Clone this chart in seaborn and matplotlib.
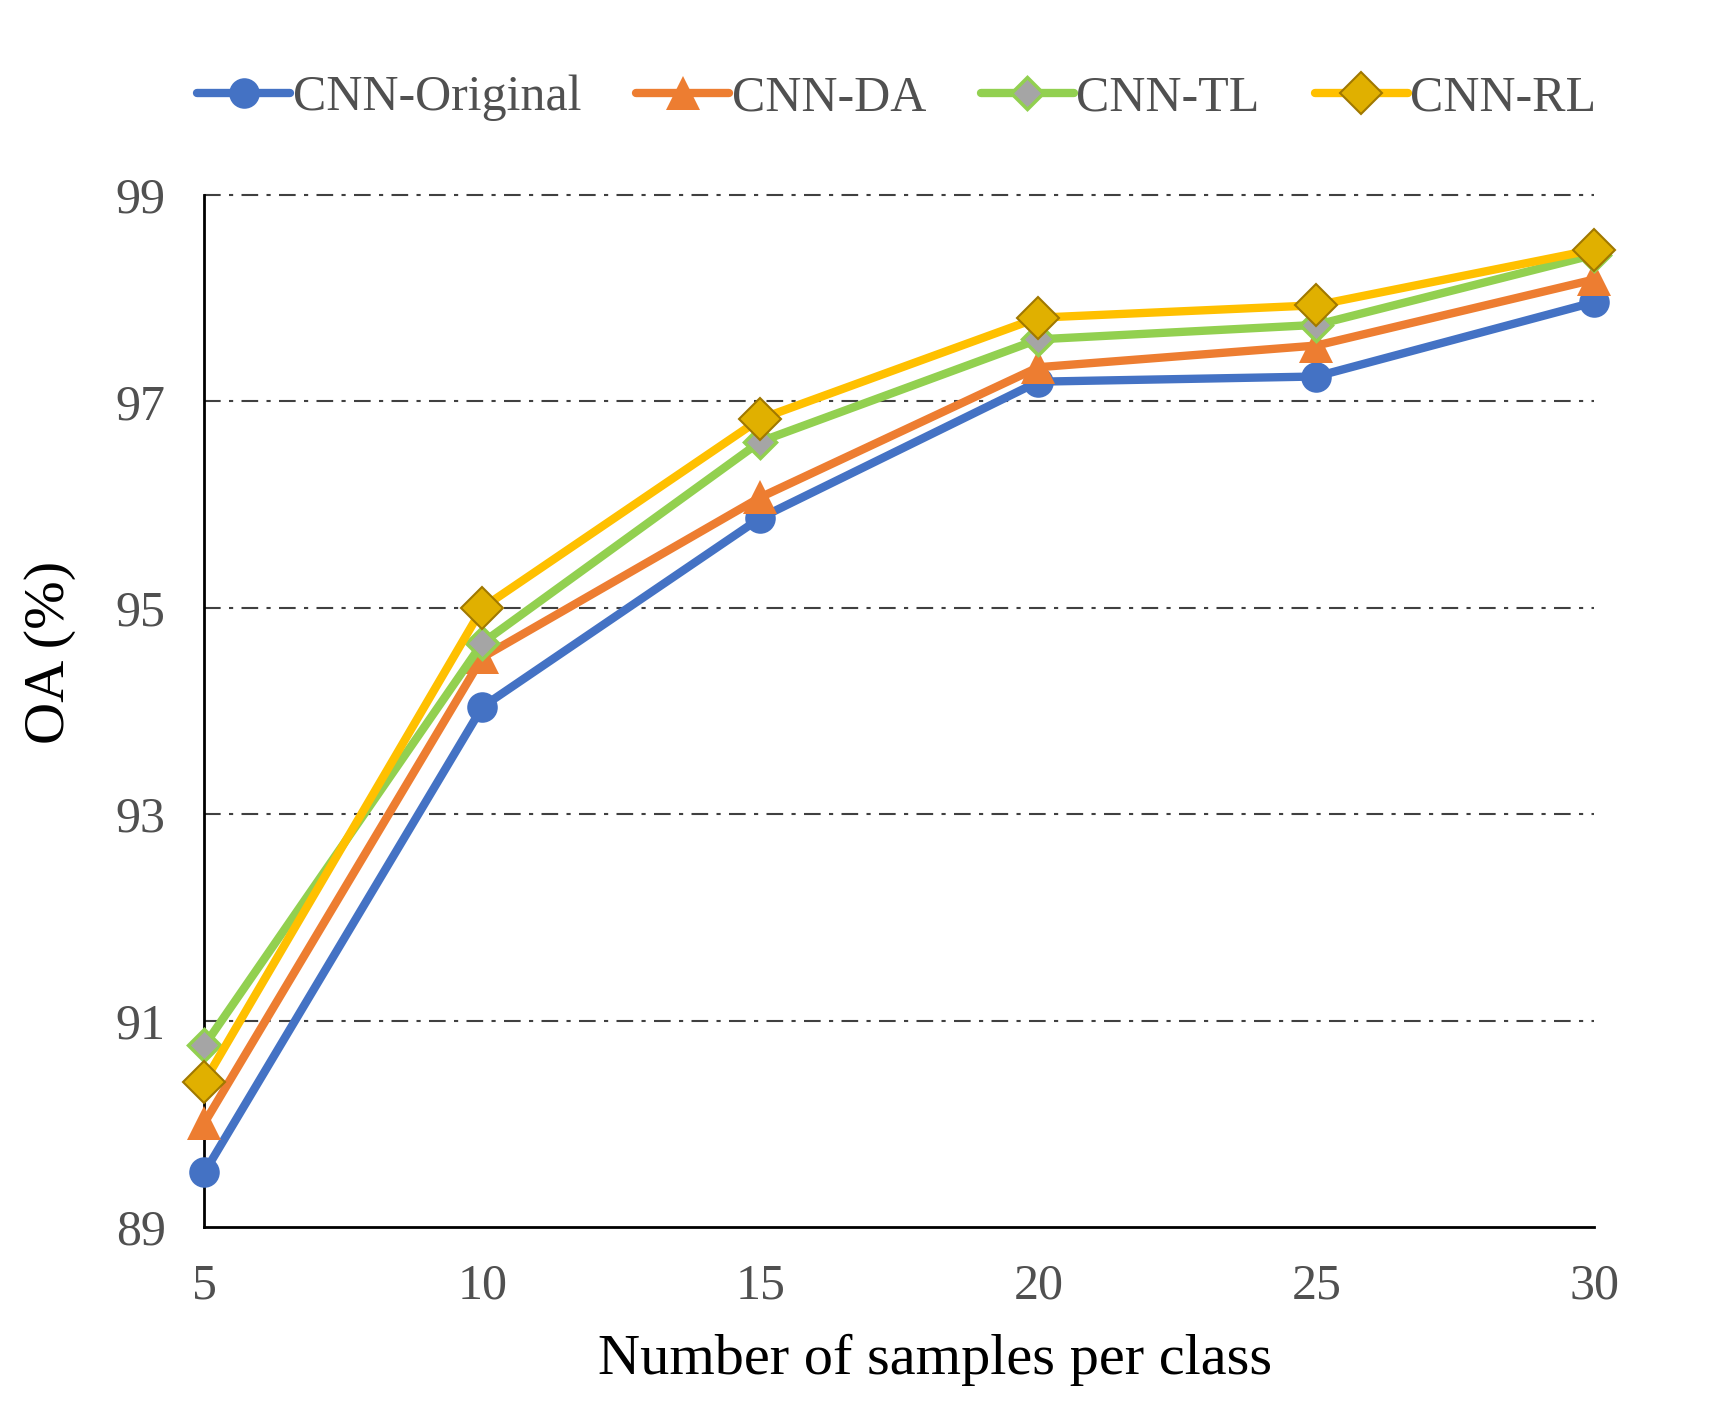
import matplotlib
matplotlib.use('Agg')
import matplotlib.pyplot as plt
import pandas as pd
import seaborn as sns

# Data
samples = [5, 10, 15, 20, 25, 30]
cnn_original = [89.53, 94.04, 95.87, 97.19, 97.24, 97.96]
cnn_da = [90.01, 94.52, 96.07, 97.33, 97.54, 98.18]
cnn_tl = [90.76, 94.66, 96.61, 97.60, 97.74, 98.42]
cnn_rl = [90.41, 95.00, 96.83, 97.81, 97.93, 98.47]

series_names = ['CNN-Original', 'CNN-DA', 'CNN-TL', 'CNN-RL']

df = pd.DataFrame({
    'samples': samples * 4,
    'OA': cnn_original + cnn_da + cnn_tl + cnn_rl,
    'model': [n for n in series_names for _ in samples],
})

sns.set_theme(style='white')
plt.rcParams['font.family'] = ['Liberation Serif', 'DejaVu Serif']

fig = plt.figure(figsize=(17.18, 14.22), dpi=100)
ax = fig.add_axes([0.119, 0.137, 0.809, 0.726])

# Styles per series
styles = {
    'CNN-Original': dict(color='#4472C4', marker='o', markersize=22, mfc='#4472C4', mec='#4472C4', mew=0),
    'CNN-DA': dict(color='#ED7D31', marker='^', markersize=24, mfc='#ED7D31', mec='#ED7D31', mew=0),
    'CNN-TL': dict(color='#92D050', marker='D', markersize=16, mfc='#A5A5A5', mec='#92D050', mew=2.5),
    'CNN-RL': dict(color='#FFC000', marker='D', markersize=21, mfc='#E0B000', mec='#A07800', mew=1.5),
}

for name in series_names:
    st = styles[name]
    sns.lineplot(data=df[df.model == name], x='samples', y='OA', ax=ax,
                 color=st['color'], linewidth=6, marker=st['marker'],
                 markersize=st['markersize'], markerfacecolor=st['mfc'],
                 markeredgecolor=st['mec'], markeredgewidth=st['mew'],
                 label=name, zorder=3)

ax.set_xlim(5, 30)
ax.set_ylim(89, 99)
ax.set_xticks(samples)
ax.set_yticks([89, 91, 93, 95, 97, 99])
ax.tick_params(axis='both', length=0, labelsize=36, labelcolor='#505050')
ax.tick_params(axis='x', pad=26)
ax.tick_params(axis='y', pad=28)

for y in [91, 93, 95, 97, 99]:
    ax.axhline(y, color='#404040', linewidth=1.5, linestyle=(0, (8, 4, 2, 4)), zorder=1)

for side in ['top', 'right']:
    ax.spines[side].set_visible(False)
for side in ['left', 'bottom']:
    ax.spines[side].set_color('black')
    ax.spines[side].set_linewidth(2)
for ln in ax.lines:
    ln.set_clip_on(False)

ax.set_xlabel('Number of samples per class', fontsize=42, color='black')
ax.set_ylabel('OA (%)', fontsize=42, color='black')
ax.xaxis.set_label_coords(0.526, -0.103)
ax.yaxis.set_label_coords(-0.111, 0.557)
ax.yaxis.label.set_verticalalignment('center')
ax.yaxis.label.set_horizontalalignment('center')

handles, labels = ax.get_legend_handles_labels()
ax.legend(handles, labels, loc='center', bbox_to_anchor=(0.522, 0.931),
          bbox_transform=fig.transFigure, ncol=4, frameon=False,
          fontsize=36, labelcolor='#505050', handlelength=1.86,
          handletextpad=0.05, columnspacing=1.1)

fig.savefig('out.png', dpi=100)
